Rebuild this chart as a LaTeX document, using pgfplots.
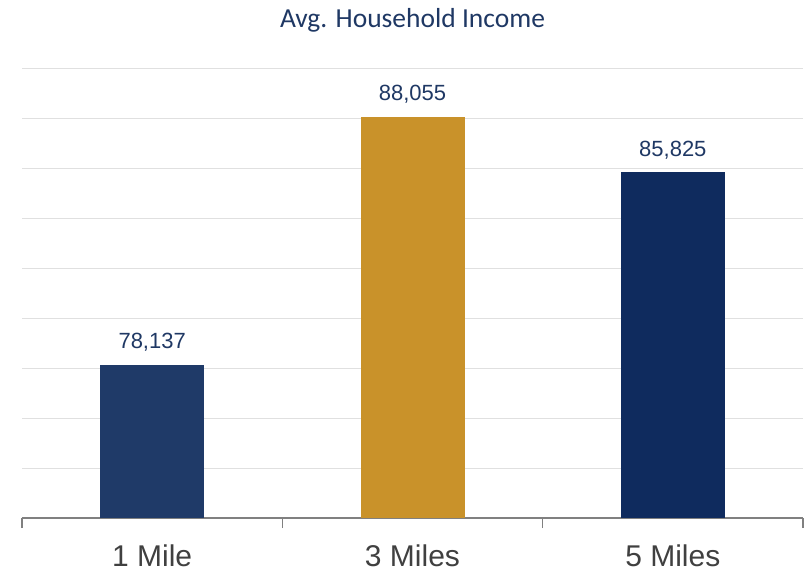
\documentclass[border=0pt]{standalone}
\usepackage{pgfplots}
\pgfplotsset{compat=1.18}
\usepackage{fontspec}
\setmainfont{Liberation Sans}
\newfontfamily\titlefont{Carlito}
\definecolor{navyA}{HTML}{1F3A68}
\definecolor{goldB}{HTML}{C9922A}
\definecolor{navyC}{HTML}{0F2B5E}
\definecolor{txtnavy}{HTML}{1F3864}
\definecolor{ticktxt}{HTML}{404040}
\begin{document}
\begin{tikzpicture}
\begin{axis}[
  name=ax,
  scale only axis,
  width=781bp, height=450bp,
  xmin=-0.5, xmax=2.5,
  ymin=72000, ymax=90000,
  axis x line*=bottom,
  axis y line*=left,
  y axis line style={draw=none},
  ytick style={draw=none},
  ytick={72000,74000,...,90000},
  yticklabels={},
  scaled y ticks=false,
  ymajorgrids,
  grid style={draw=black!12, line width=0.8bp},
  xtick={-0.5,0.5,1.5,2.5},
  x tick label as interval,
  xticklabels={1 Mile,3 Miles,5 Miles},
  xticklabel style={font=\fontsize{30bp}{36bp}\selectfont, text=ticktxt, anchor=base, yshift=-38bp},
  tick align=outside,
  major tick length=10bp,
  x axis line style={draw=black!50, line width=1.6bp, -},
  xtick style={draw=black!50, line width=1.6bp},
  ybar,
  bar width=104bp,
  bar shift=0pt,
  nodes near coords,
  nodes near coords style={font=\fontsize{22bp}{26bp}\selectfont, text=txtnavy, anchor=base, yshift=16bp,
    /pgf/number format/.cd, fixed, precision=0, 1000 sep={,}, assume math mode=true},
  title={Avg. Household Income},
  title style={font=\titlefont\fontsize{27.5bp}{31bp}\selectfont, text=txtnavy, anchor=base, at={(0.5,1)}, yshift=35bp},
  clip=false,
]
\addplot[fill=navyA, draw=none] coordinates {(0,78137)};
\addplot[fill=goldB, draw=none] coordinates {(1,88055)};
\addplot[fill=navyC, draw=none] coordinates {(2,85825)};
\end{axis}
\pgfresetboundingbox
\path[use as bounding box] ([shift={(-22bp,-56bp)}]ax.south west) rectangle ([shift={(3bp,68bp)}]ax.north east);
\end{tikzpicture}
\end{document}
